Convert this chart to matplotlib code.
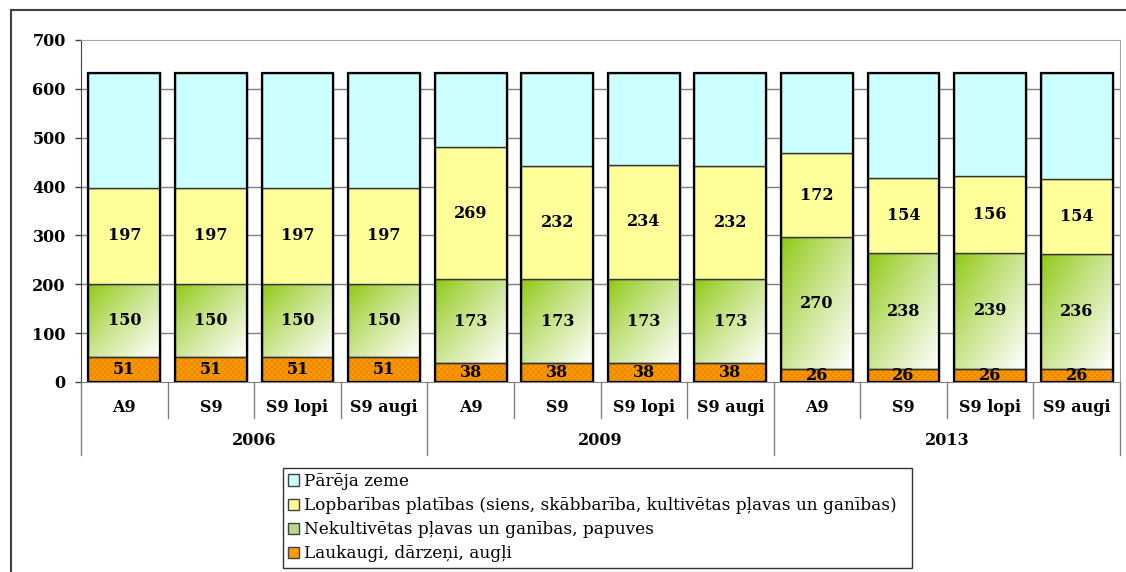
import numpy as np
import matplotlib
matplotlib.use('Agg')
import matplotlib.pyplot as plt
import matplotlib.transforms as mtransforms
from matplotlib.patches import Patch, Rectangle
from matplotlib.lines import Line2D

# ---- data ----
years = ['2006', '2009', '2013']
scenarios = ['A9', 'S9', 'S9 lopi', 'S9 augi']
laukaugi = [51, 51, 51, 51, 38, 38, 38, 38, 26, 26, 26, 26]
nekultivetas = [150, 150, 150, 150, 173, 173, 173, 173, 270, 238, 239, 236]
lopbaribas = [197, 197, 197, 197, 269, 232, 234, 232, 172, 154, 156, 154]
pareja = [235, 235, 235, 235, 153, 190, 188, 190, 165, 215, 212, 217]
legend_labels = ['Pārēja zeme',
                 'Lopbarības platības (siens, skābbarība, kultivētas pļavas un ganības)',
                 'Nekultivētas pļavas un ganības, papuves',
                 'Laukaugi, dārzeņi, augļi']

SERIF = ['DejaVu Serif', 'Liberation Serif']
plt.rcParams['hatch.linewidth'] = 0.5

W, H = 1126, 572
fig = plt.figure(figsize=(W / 100, H / 100), dpi=100)
ax = fig.add_axes([81 / W, 1 - 382 / H, (1120 - 81) / W, 342 / H])

n = len(laukaugi)
x = np.arange(n)
bw = 0.83
l = np.array(laukaugi)
nk = np.array(nekultivetas)
lb = np.array(lopbaribas)
pr = np.array(pareja)

ax.set_xlim(-0.5, n - 0.5)
ax.set_ylim(0, 700)
for yv in range(100, 700, 100):
    ax.axhline(yv, color='#808080', lw=1.0, zorder=0)

# orange (hatched)
ax.bar(x, l, bw, color='#FF9900', edgecolor='#E08400', hatch='xxxxxx', lw=0, zorder=2)
ax.bar(x, l, bw, fill=False, edgecolor='#333333', lw=1.0, zorder=3)

# green gradient
green = np.array([0.55, 0.78, 0.05])
white = np.array([1.0, 1.0, 1.0])
N = 100
uu, vv = np.meshgrid(np.linspace(0, 1, N), np.linspace(0, 1, N))
t = np.clip((uu + vv) / 2.0, 0, 1) ** 0.85
grad = green[None, None, :] * (1 - t[..., None]) + white[None, None, :] * t[..., None]
for xi, b, h in zip(x, l, nk):
    rect = Rectangle((xi - bw / 2, b), bw, h, facecolor='none', edgecolor='none')
    ax.add_patch(rect)
    im = ax.imshow(grad, extent=(xi - bw / 2, xi + bw / 2, b, b + h), origin='upper',
                   aspect='auto', zorder=2, interpolation='bilinear')
    im.set_clip_path(rect)
ax.bar(x, nk, bw, bottom=l, fill=False, edgecolor='#333333', lw=1.0, zorder=3)

# yellow
ax.bar(x, lb, bw, bottom=l + nk, color='#FFFF99', edgecolor='#333333', lw=1.0, zorder=3)
# cyan
ax.bar(x, pr, bw, bottom=l + nk + lb, color='#CCFFFF', edgecolor='#333333', lw=1.0, zorder=3)
# outline
ax.bar(x, l + nk + lb + pr, bw, fill=False, edgecolor='black', lw=1.6, zorder=4)

ax.set_xlim(-0.5, n - 0.5)
ax.set_ylim(0, 700)

# data labels
for series, bottoms in ((l, np.zeros(n)), (nk, l), (lb, l + nk)):
    for xi, v, b in zip(x, series, bottoms):
        ax.text(xi, b + v / 2, str(v), ha='center', va='center', fontsize=11.5,
                fontweight='bold', family=SERIF, zorder=6)

# axes styling
ax.set_yticks(range(0, 701, 100))
ax.set_yticklabels([str(v) for v in range(0, 701, 100)], fontsize=11.5,
                   fontweight='bold', family=SERIF)
ax.tick_params(axis='y', length=4, width=1, color='#404040', pad=7)
ax.set_xticks([])
ax.spines['top'].set_color('#A6A6A6')
ax.spines['right'].set_color('#A6A6A6')
ax.spines['left'].set_color('#404040')
ax.spines['bottom'].set_color('#808080')

# multi-level category axis
trans = mtransforms.blended_transform_factory(ax.transData, ax.transAxes)
cat_labels = [s for _ in years for s in scenarios]
for i, s in enumerate(cat_labels):
    ax.text(i, -0.076, s, transform=trans, ha='center', va='center', fontsize=11.5,
            fontweight='bold', family=SERIF)
ng = len(scenarios)
for gi, yr in enumerate(years):
    ax.text(gi * ng + (ng - 1) / 2, -0.1725, yr, transform=trans, ha='center', va='center',
            fontsize=11.5, fontweight='bold', family=SERIF)
for k in range(n + 1):
    bnd = k - 0.5
    depth = -0.2135 if k % ng == 0 else -0.105
    ax.plot([bnd, bnd], [0, depth], transform=trans, color='#808080', lw=1.0, clip_on=False)

# legend
handles = [Patch(facecolor='#CCFFFF', edgecolor='#404040'),
           Patch(facecolor='#FFFF99', edgecolor='#404040'),
           Patch(facecolor='#B5D98A', edgecolor='#404040'),
           Patch(facecolor='#FF9900', edgecolor='#404040')]
leg = fig.legend(handles, legend_labels, loc='upper left',
                 bbox_to_anchor=(283 / W, 1 - 468 / H, (912 - 283) / W, 0.0),
                 mode='expand', frameon=True, fancybox=False, edgecolor='black',
                 prop={'family': SERIF, 'size': 12.2}, handlelength=0.65, handleheight=0.65,
                 handletextpad=0.3, labelspacing=0.42, borderpad=0.3, borderaxespad=0)
leg.get_frame().set_linewidth(1.0)

# outer chart border
fig.add_artist(Line2D([11 / W, 1.0], [1 - 10 / H, 1 - 10 / H], transform=fig.transFigure,
                      color='#404040', lw=1.5))
fig.add_artist(Line2D([11 / W, 11 / W], [0.0, 1 - 10 / H], transform=fig.transFigure,
                      color='#404040', lw=1.5))

fig.savefig('out.png', dpi=100)
